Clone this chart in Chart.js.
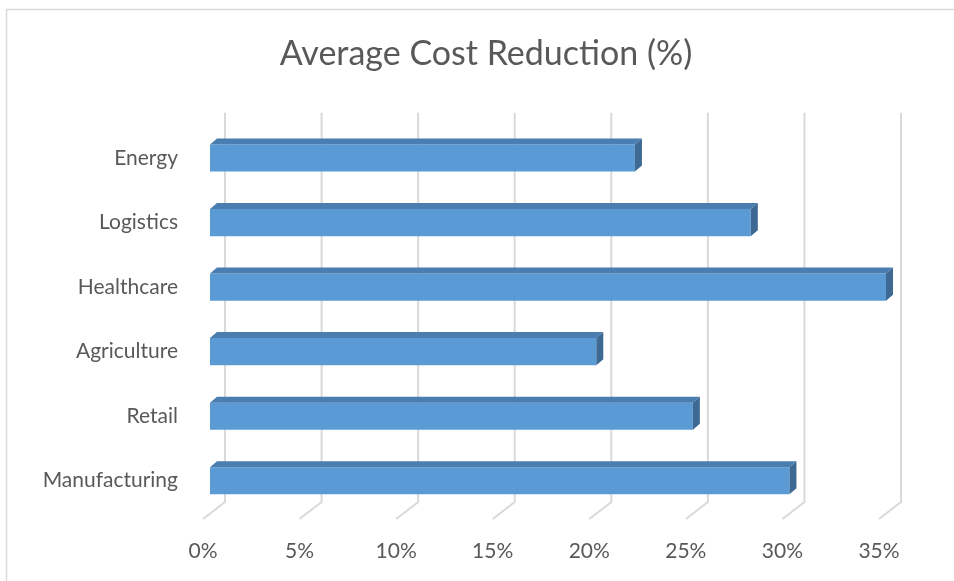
<!DOCTYPE html>
<html>
<head>
<meta charset="utf-8">
<script src="https://cdn.jsdelivr.net/npm/chart.js@4/dist/chart.umd.min.js"></script>
<style>
  html, body { margin: 0; padding: 0; background: #fff; }
  #wrap { width: 954px; height: 581px; position: relative; }
</style>
</head>
<body>
<div id="wrap"><canvas id="myChart" width="954" height="581"></canvas></div>
<script>
// Dados do gráfico (ordem da série, de baixo para cima)
const categories = ['Manufacturing', 'Retail', 'Agriculture', 'Healthcare', 'Logistics', 'Energy'];
const costReduction = [30, 25, 20, 35, 28, 22];
const tickValues = [0, 5, 10, 15, 20, 25, 30, 35];

const FONT = 'Lato';
const GREY = '#595959';

// Moldura, paredes e linhas de grade "3D" atrás das barras
const backdrop = {
    id: 'backdrop',
    beforeDatasetsDraw(chart) {
        const ctx = chart.ctx;
        const area = chart.chartArea;
        const xs = chart.scales.x;
        ctx.save();
        ctx.strokeStyle = '#d9d9d9';
        ctx.lineWidth = 1.5;
        // moldura do gráfico
        ctx.beginPath();
        ctx.moveTo(6.5, 581);
        ctx.lineTo(6.5, 9.5);
        ctx.lineTo(954, 9.5);
        ctx.stroke();
        // grade: parede do fundo + chão
        ctx.lineWidth = 2;
        tickValues.forEach(v => {
            const x = xs.getPixelForValue(v);
            ctx.beginPath();
            ctx.moveTo(x + 15, area.top - 13);
            ctx.lineTo(x + 15, area.bottom - 11);
            ctx.lineTo(x - 7, area.bottom + 6);
            ctx.stroke();
        });
        ctx.restore();
    },
    afterDatasetsDraw(chart) {
        const ctx = chart.ctx;
        const dx = 7, dy = 6;
        chart.getDatasetMeta(0).data.forEach(bar => {
            const top = bar.y - bar.height / 2;
            const bottom = bar.y + bar.height / 2;
            // face de cima
            ctx.fillStyle = '#4a7db0';
            ctx.beginPath();
            ctx.moveTo(bar.base, top);
            ctx.lineTo(bar.base + dx, top - dy);
            ctx.lineTo(bar.x + dx, top - dy);
            ctx.lineTo(bar.x, top);
            ctx.closePath();
            ctx.fill();
            // face lateral
            ctx.fillStyle = '#3d6993';
            ctx.beginPath();
            ctx.moveTo(bar.x, top);
            ctx.lineTo(bar.x + dx, top - dy);
            ctx.lineTo(bar.x + dx, bottom - dy);
            ctx.lineTo(bar.x, bottom);
            ctx.closePath();
            ctx.fill();
        });
    }
};

var ctx = document.getElementById('myChart').getContext('2d');
var chart = new Chart(ctx, {
    type: 'bar',
    data: {
        labels: categories,
        datasets: [{
            label: 'Average Cost Reduction (%)',
            data: costReduction,
            backgroundColor: '#5b9bd5',
            borderWidth: 0,
            barPercentage: 0.42,
            categoryPercentage: 1
        }]
    },
    options: {
        indexAxis: 'y',
        responsive: false,
        animation: false,
        layout: { padding: { left: 18, right: 0, top: 0, bottom: 0 } },
        plugins: {
            legend: { display: false },
            tooltip: { enabled: false },
            title: {
                display: true,
                text: 'Average Cost Reduction (%)',
                color: GREY,
                font: { family: FONT, size: 34, weight: 'normal' },
                padding: { top: 34, bottom: 51 }
            }
        },
        scales: {
            x: {
                min: 0,
                max: 35,
                grid: { display: false },
                border: { display: false },
                ticks: {
                    stepSize: 5,
                    labelOffset: -7,
                    padding: 18,
                    color: GREY,
                    font: { family: FONT, size: 21 },
                    callback: v => v + '%'
                },
                afterFit(scale) { scale.height = 68; }
            },
            y: {
                reverse: true,
                grid: { display: false },
                border: { display: false },
                ticks: {
                    padding: 24,
                    color: GREY,
                    font: { family: FONT, size: 21 }
                },
                afterFit(scale) { scale.width = 192; }
            },
            // eixo vazio só para reservar a margem direita
            spacer: {
                axis: 'y',
                position: 'right',
                display: true,
                grid: { display: false },
                border: { display: false },
                ticks: { display: false },
                afterFit(scale) { scale.width = 68; }
            }
        }
    },
    plugins: [backdrop]
});
</script>
</body>
</html>
